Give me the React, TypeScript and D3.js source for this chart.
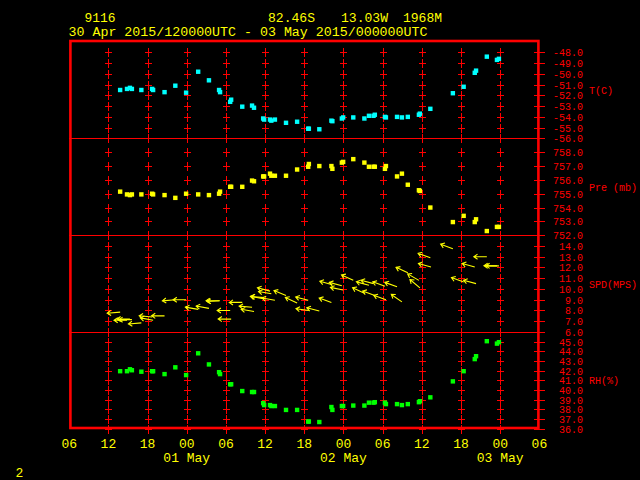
import * as d3 from "d3";

// observation times, hours after 30 Apr 2015 00 UTC
const obsHours = [
  13.8, 14.85, 15.3, 15.6, 17.05, 18.7, 18.85, 20.6, 22.25, 23.9, 25.75, 27.4,
  28.95, 29.1, 30.65, 30.8, 32.5, 34.0, 34.3, 35.7, 35.85, 36.75, 36.95, 37.5,
  39.2, 40.9, 42.6, 42.7, 44.3, 46.15, 46.3, 47.75, 47.95, 49.5, 51.2, 51.9,
  52.6, 52.8, 54.35, 54.5, 56.2, 56.95, 57.85, 59.55, 59.7, 61.3, 64.75, 66.4,
  68.1, 68.3, 69.95, 71.5, 71.8,
];
const tempC = [
  -51.5, -51.4, -51.3, -51.4, -51.5, -51.4, -51.5, -51.7, -51.1, -51.75, -49.8,
  -50.6, -51.5, -51.7, -52.6, -52.4, -53.05, -52.95, -53.15, -54.15, -54.25,
  -54.25, -54.35, -54.25, -54.55, -54.45, -55.1, -55.1, -55.15, -54.35, -54.4,
  -54.15, -54.05, -54.05, -54.15, -53.9, -53.9, -53.8, -54.0, -54.05, -54.0,
  -54.05, -54.0, -53.8, -53.7, -53.25, -51.8, -51.2, -49.9, -49.7, -48.4, -48.7,
  -48.6,
];
const presMb = [
  755.15, 754.95, 754.9, 754.95, 754.95, 755.0, 754.95, 754.9, 754.7, 755.0,
  754.95, 754.9, 755.0, 755.15, 755.5, 755.5, 755.5, 755.95, 755.9, 756.25,
  756.25, 756.45, 756.3, 756.3, 756.3, 756.75, 756.95, 757.15, 757.0, 757.0,
  756.8, 757.25, 757.3, 757.5, 757.25, 756.95, 756.95, 756.95, 756.8, 757.0,
  756.25, 756.45, 755.65, 755.25, 755.2, 754.0, 752.95, 753.4, 752.95, 753.15,
  752.3, 752.6, 752.6,
];
const rhPct = [
  41.95, 41.95, 42.15, 42.05, 41.9, 41.95, 41.95, 41.65, 42.35, 41.55, 43.8,
  42.65, 41.85, 41.65, 40.6, 40.6, 39.9, 39.8, 39.8, 38.65, 38.45, 38.45, 38.35,
  38.35, 37.95, 37.95, 36.75, 36.75, 36.7, 38.25, 37.95, 38.35, 38.35, 38.4,
  38.4, 38.7, 38.7, 38.75, 38.7, 38.55, 38.55, 38.45, 38.55, 38.75, 38.85,
  39.25, 40.9, 41.95, 43.2, 43.5, 45.05, 44.8, 44.95,
];

// wind: time, speed (m/s), direction the wind blows from (deg)
const windHours = [
  13.8, 14.85, 15.3, 15.6, 17.05, 18.7, 18.85, 20.6, 22.25, 23.9, 25.75, 27.4,
  28.95, 29.1, 30.65, 30.8, 32.5, 34.0, 34.3, 35.7, 35.85, 36.75, 36.95, 37.5,
  39.2, 40.9, 42.6, 42.7, 44.3, 46.15, 46.3, 47.75, 47.95, 49.5, 51.2, 51.9,
  52.6, 52.8, 54.35, 54.5, 56.2, 56.95, 57.85, 59.55, 59.7, 61.3, 61.4, 64.75,
  66.4, 68.1, 68.3, 69.95, 71.5, 71.8,
];
const windSpd = [
  7.85, 7.1, 7.2, 7.15, 6.85, 7.4, 7.1, 7.5, 9.0, 9.0, 8.1, 8.2, 8.9, 8.9, 8.0,
  7.2, 8.75, 8.3, 7.9, 9.1, 9.2, 9.8, 9.55, 8.95, 9.4, 8.7, 8.95, 8.0, 7.95,
  8.75, 10.4, 10.3, 9.9, 10.8, 9.6, 10.35, 10.5, 9.4, 10.25, 9.0, 10.2, 8.8,
  11.5, 10.8, 10.1, 12.9, 12.05, 13.75, 10.65, 12.05, 10.5, 13.0, 12.15, 12.15,
];
const windDir = [
  85, 90, 90, 90, 85, 95, 100, 90, 85, 90, 100, 100, 90, 87, 90, 90, 90, 95,
  100, 100, 95, 105, 100, 100, 112, 115, 105, 98, 105, 110, 105, 105, 102, 115,
  115, 105, 105, 110, 110, 110, 110, 125, 115, 120, 130, 110, 105, 110, 110,
  105, 105, 90, 90, 90,
];

const panelNames = ["T(C)", "Pre (mb)", "SPD(MPS)", "RH(%)"];
const panelLo = [-56, 752, 6, 36];
const panelHi = [-47, 759, 15, 46];

const RED = "#ff0000";
const YEL = "#ffff00";
const FONT = "Liberation Mono, DejaVu Sans Mono, monospace";

const base = Date.UTC(2015, 3, 30);
const toDate = (h: number) => new Date(base + h * 3600e3);

const App = () => {
  const width = 640;
  const height = 480;
  const top = 41.6;
  const panelH = 96.8;

  const x = d3
    .scaleUtc()
    .domain([toDate(6), toDate(78)])
    .range([69.2, 539.4]);

  const ys = panelLo.map((lo, i) =>
    d3
      .scaleLinear()
      .domain([lo, panelHi[i]])
      .range([top + (i + 1) * panelH, top + i * panelH])
  );

  const hourTicks = x.ticks(d3.utcHour.every(6)!);
  const inner = hourTicks.filter(
    (d) => +d > +x.domain()[0] && +d < +x.domain()[1]
  );
  const dayTicks = x.ticks(d3.utcDay.every(1)!);
  const fmtHour = d3.utcFormat("%H");
  const fmtDay = d3.utcFormat("%d %b");

  // grid crosses
  const crossPath = ys
    .map((y, i) =>
      d3
        .range(panelLo[i], panelHi[i])
        .map((v) =>
          inner
            .map((d) => {
              const px = Math.round(x(d)) + 0.5;
              const py = Math.round(y(v)) + 0.5;
              return `M${px - 3.5},${py}h7M${px},${py - 4.5}v9`;
            })
            .join("")
        )
        .join("")
    )
    .join("");

  const series = [
    { vals: tempC, color: "#00ffff", y: ys[0] },
    { vals: presMb, color: YEL, y: ys[1] },
    { vals: rhPct, color: "#00ff00", y: ys[3] },
  ];

  const arrowLen = 13;
  const headLen = 4.5;
  const arrows = windHours.map((h, i) => {
    const tx = x(toDate(h));
    const ty = ys[2](windSpd[i]);
    const b = ((windDir[i] + 180) * Math.PI) / 180;
    const ux = Math.sin(b);
    const uy = -Math.cos(b);
    const hx = tx + ux * arrowLen;
    const hy = ty + uy * arrowLen;
    const a = Math.atan2(uy, ux);
    const w1 = a + Math.PI - 0.6;
    const w2 = a + Math.PI + 0.6;
    return `M${tx},${ty}L${hx},${hy}M${hx + Math.cos(w1) * headLen},${
      hy + Math.sin(w1) * headLen
    }L${hx},${hy}L${hx + Math.cos(w2) * headLen},${hy + Math.sin(w2) * headLen}`;
  });

  return (
    <svg
      width={width}
      height={height}
      style={{ position: "fixed", left: 0, top: 0, background: "#000" }}
    >
      <rect width={width} height={height} fill="#000" />

      {/* header */}
      <g fill={YEL} fontFamily={FONT} fontSize={12}>
        <text x={84.5} y={21.5} textLength={31} lengthAdjust="spacingAndGlyphs">9116</text>
        <text x={268} y={21.5} textLength={47} lengthAdjust="spacingAndGlyphs">82.46S</text>
        <text x={341} y={21.5} textLength={47} lengthAdjust="spacingAndGlyphs">13.03W</text>
        <text x={403} y={21.5} textLength={39} lengthAdjust="spacingAndGlyphs">1968M</text>
        <text x={68.5} y={35.5} textLength={359} lengthAdjust="spacingAndGlyphs">
          30 Apr 2015/120000UTC - 03 May 2015/000000UTC
        </text>
      </g>

      <path
        d={crossPath}
        stroke={RED}
        strokeWidth={1}
        fill="none"
        shapeRendering="crispEdges"
      />

      {/* panel dividers */}
      {[1, 2, 3].map((i) => (
        <line
          key={i}
          x1={x.range()[0]}
          x2={x.range()[1]}
          y1={Math.round(top + i * panelH) + 0.5}
          y2={Math.round(top + i * panelH) + 0.5}
          stroke={RED}
          strokeWidth={1}
          shapeRendering="crispEdges"
        />
      ))}

      {/* right axis */}
      {ys.map((y, i) => (
        <g key={i}>
          {d3.range(panelLo[i], panelHi[i]).map((v) => (
            <g key={v}>
              <line
                x1={534}
                x2={545}
                y1={Math.round(y(v)) + 0.5}
                y2={Math.round(y(v)) + 0.5}
                stroke={RED}
                shapeRendering="crispEdges"
              />
              <text
                x={583}
                y={y(v) + 4}
                textAnchor="end"
                fill={RED}
                fontFamily={FONT}
                fontSize={10}
              >
                {v.toFixed(1)}
              </text>
            </g>
          ))}
          <text
            x={589}
            y={top + (i + 0.5) * panelH + 4}
            fill={RED}
            fontFamily={FONT}
            fontSize={10}
          >
            {panelNames[i]}
          </text>
        </g>
      ))}

      {/* frame */}
      <rect
        x={70.4}
        y={41}
        width={468}
        height={387}
        fill="none"
        stroke={RED}
        strokeWidth={2.6}
      />

      {/* markers */}
      {series.map((s, si) => (
        <g key={si} fill={s.color}>
          {s.vals.map((v, i) => (
            <rect
              key={i}
              x={x(toDate(obsHours[i])) - 2.2}
              y={s.y(v) - 2.2}
              width={4.4}
              height={4.4}
            />
          ))}
        </g>
      ))}

      <g stroke={YEL} strokeWidth={1.1} fill="none">
        {arrows.map((d, i) => (
          <path key={i} d={d} />
        ))}
      </g>

      {/* time axis */}
      <g fill={YEL} fontFamily={FONT} fontSize={13} textAnchor="middle">
        {hourTicks.map((d, i) => (
          <text key={i} x={x(d)} y={448}>
            {fmtHour(d)}
          </text>
        ))}
        {dayTicks.map((d, i) => (
          <text key={"d" + i} x={x(d)} y={462}>
            {fmtDay(d)}
          </text>
        ))}
      </g>
      <text x={15.5} y={477} fill={YEL} fontFamily={FONT} fontSize={13}>
        2
      </text>
    </svg>
  );
};

export default App;
